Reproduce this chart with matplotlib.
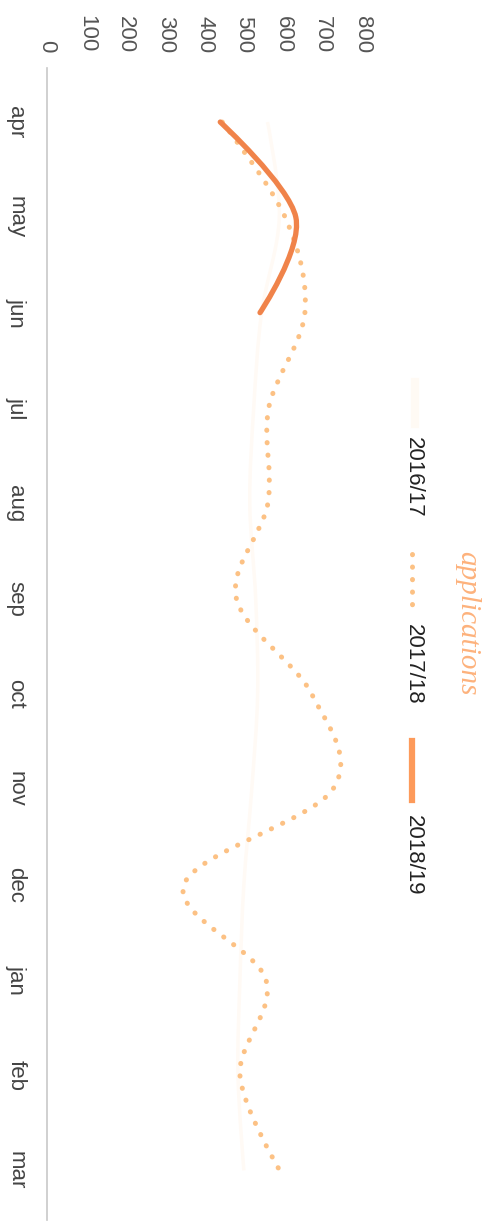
import numpy as np
import matplotlib.pyplot as plt
from matplotlib.path import Path
from matplotlib.patches import PathPatch
from matplotlib.lines import Line2D

plt.rcParams['font.family'] = ['Liberation Sans', 'DejaVu Sans']

months = ['apr', 'may', 'jun', 'jul', 'aug', 'sep', 'oct', 'nov', 'dec', 'jan', 'feb', 'mar']
apps_1617 = [560, 590, 545, 525, 515, 530, 535, 520, 500, 490, 485, 500]
apps_1718 = [445, 605, 655, 563, 561, 481, 672, 726, 348, 556, 490, 591]
apps_1819 = [440, 632, 541]
value_ticks = [0, 100, 200, 300, 400, 500, 600, 700, 800]

W, H = 494, 1223


def cardinal_path(vals):
    # same smoothing as d3.curveCardinal (tension 0); x = value, y = month index
    p = np.column_stack([vals, np.arange(len(vals))]).astype(float)
    n = len(p)
    verts = [p[0]]
    codes = [Path.MOVETO]
    for i in range(n - 1):
        prev = p[i - 1] if i > 0 else p[i + 1]
        nxt = p[i + 2] if i + 2 < n else p[i]
        c1 = p[i] + (p[i + 1] - prev) / 6
        c2 = p[i + 1] + (p[i] - nxt) / 6
        verts += [c1, c2, p[i + 1]]
        codes += [Path.CURVE4] * 3
    return Path(verts, codes)


dots = (0, (0.05, 2.45))

fig = plt.figure(figsize=(W / 100, H / 100), dpi=100)
ax = fig.add_axes([47 / W, 3 / H, 315 / W, 1152 / H])

ax.add_patch(PathPatch(cardinal_path(apps_1617), fill=False, ec='#fffaf5', lw=2.5, zorder=1))
ax.add_patch(PathPatch(cardinal_path(apps_1718), fill=False, ec='#fcc184', lw=3.6,
                       linestyle=dots, capstyle='round', zorder=2))
ax.add_patch(PathPatch(cardinal_path(apps_1819), fill=False, ec='#f0834a', lw=3.8,
                       capstyle='round', zorder=3))

ax.set_xlim(0, 800)
ax.set_ylim(11.52, -0.567)

ax.xaxis.tick_top()
ax.set_xticks(value_ticks)
ax.set_xticklabels([str(v) for v in value_ticks], rotation=-90, fontsize=16, color='#555555')
ax.set_yticks(range(len(months)))
ax.set_yticklabels(months, rotation=-90, fontsize=16, color='#444444', va='center')
ax.tick_params(axis='x', length=0, pad=11)
ax.tick_params(axis='y', length=0, pad=15)

for s in ['top', 'right', 'bottom']:
    ax.spines[s].set_visible(False)
ax.spines['left'].set_color('#c8c8c8')
ax.spines['left'].set_linewidth(1.2)


def fx(px):
    return px / W


def fy(py):
    return 1 - py / H


# legend, drawn rotated like the rest of the chart
fig.add_artist(Line2D([fx(415), fx(415)], [fy(382), fy(424)], color='#fffaf4', lw=6))
fig.text(fx(413), fy(477), '2016/17', rotation=-90, ha='center', va='center',
         fontsize=16, color='#222222')
fig.add_artist(Line2D([fx(412), fx(412)], [fy(554), fy(612)], color='#fcc184', lw=3.6,
                      linestyle=dots, dash_capstyle='round'))
fig.text(fx(413), fy(664), '2017/18', rotation=-90, ha='center', va='center',
         fontsize=16, color='#222222')
fig.add_artist(Line2D([fx(412), fx(412)], [fy(741), fy(800)], color='#fd9a5a', lw=4.5))
fig.text(fx(413), fy(855), '2018/19', rotation=-90, ha='center', va='center',
         fontsize=16, color='#222222')
fig.text(fx(467), fy(623), 'applications', rotation=-90, ha='center', va='center',
         fontsize=21, color='#fdb27c', family='Liberation Serif', style='italic')

fig.savefig('out.png', dpi=100)
